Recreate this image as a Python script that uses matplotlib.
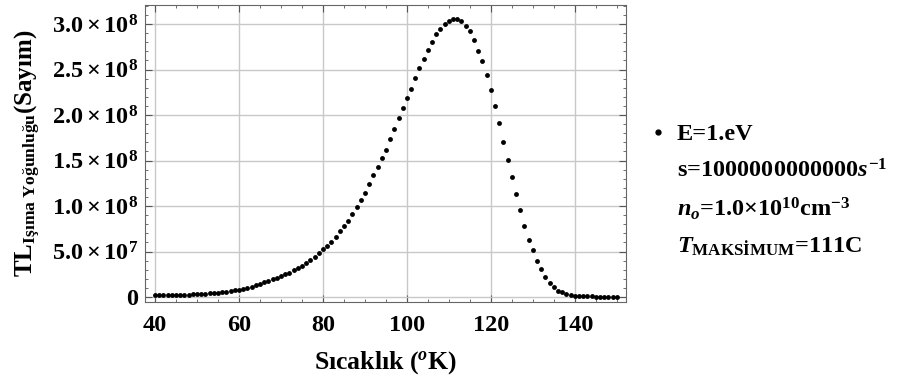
import matplotlib
matplotlib.use('Agg')
import matplotlib.pyplot as plt
from matplotlib.lines import Line2D
from matplotlib.ticker import MultipleLocator

plt.rcParams['font.family'] = 'Liberation Serif'
plt.rcParams['font.weight'] = 'bold'
plt.rcParams['axes.labelweight'] = 'bold'
plt.rcParams['mathtext.fontset'] = 'custom'
plt.rcParams['mathtext.rm'] = 'Liberation Serif:bold'
plt.rcParams['mathtext.it'] = 'Liberation Serif:italic:bold'
plt.rcParams['mathtext.bf'] = 'Liberation Serif:bold'

# sicaklik (K) ve TL isima yogunlugu (sayim)
sicaklik = list(range(40, 151))
yogunluk = [
    2.0e6, 2.0e6, 2.0e6, 2.1e6, 2.1e6, 2.2e6, 2.3e6, 2.4e6, 2.6e6, 3.0e6,      # 40-49
    3.4e6, 3.6e6, 3.8e6, 4.0e6, 4.3e6, 4.8e6, 5.4e6, 6.0e6, 6.6e6, 7.3e6,      # 50-59
    8.2e6, 9.2e6, 1.03e7, 1.15e7, 1.30e7, 1.46e7, 1.60e7, 1.76e7, 1.93e7, 2.11e7,  # 60-69
    2.30e7, 2.48e7, 2.68e7, 2.95e7, 3.20e7, 3.45e7, 3.72e7, 4.05e7, 4.45e7, 4.85e7,  # 70-79
    5.25e7, 5.60e7, 6.00e7, 6.65e7, 7.28e7, 7.83e7, 8.41e7, 9.18e7, 9.92e7, 1.065e8,  # 80-89
    1.146e8, 1.241e8, 1.336e8, 1.428e8, 1.523e8, 1.618e8, 1.736e8, 1.852e8, 1.967e8, 2.077e8,  # 90-99
    2.193e8, 2.286e8, 2.402e8, 2.520e8, 2.615e8, 2.710e8, 2.806e8, 2.886e8, 2.941e8, 2.996e8,  # 100-109
    3.033e8, 3.055e8, 3.055e8, 3.033e8, 2.982e8, 2.919e8, 2.824e8, 2.707e8, 2.597e8, 2.443e8,  # 110-119
    2.277e8, 2.102e8, 1.912e8, 1.699e8, 1.508e8, 1.314e8, 1.127e8, 9.51e7, 7.83e7, 6.29e7,  # 120-129
    5.16e7, 4.01e7, 3.07e7, 2.25e7, 1.53e7, 1.09e7, 7.1e6, 5.4e6, 3.2e6, 1.8e6,  # 130-139
    1.6e6, 1.6e6, 1.5e6, 1.2e6, 0.6e6, 0.5e6, 0.5e6, 0.5e6, 0.5e6, 0.5e6,  # 140-149
    0.5e6,  # 150
]

x_ticks = [40, 60, 80, 100, 120, 140]
y_ticks = [0, 5e7, 1e8, 1.5e8, 2e8, 2.5e8, 3e8]
y_labels = ['0', r'$5.0\times10^{7}$', r'$1.0\times10^{8}$', r'$1.5\times10^{8}$',
            r'$2.0\times10^{8}$', r'$2.5\times10^{8}$', r'$3.0\times10^{8}$']

legend_lines = [
    'E=1.eV',
    r's=1000000000000$s^{-1}$',
    r'$n_o$=1.0$\times$10$^{10}$cm$^{-3}$',
    r'$T_{\mathrm{MAKSİMUM}}$=111C',
]

fig = plt.figure(figsize=(8.99, 3.81), dpi=100)
ax = fig.add_axes([0.1613, 0.2073, 0.535, 0.7796])

ax.plot(sicaklik, yogunluk, 'o', color='black', ms=3.5, mew=0)

ax.set_xlim(37.6, 152.2)
ax.set_ylim(-5.5e6, 3.21e8)
ax.set_xticks(x_ticks)
ax.set_yticks(y_ticks)
ax.set_yticklabels(y_labels)
ax.xaxis.set_minor_locator(MultipleLocator(5))
ax.yaxis.set_minor_locator(MultipleLocator(1e7))
ax.grid(True, which='major', color='#c8c8c8', lw=1.0)
ax.set_axisbelow(True)

ax.tick_params(which='both', direction='in', top=True, right=True, color='#555555')
ax.tick_params(which='major', length=5, labelsize=17.5, pad=5)
ax.tick_params(axis='x', which='major', pad=9)
ax.tick_params(which='minor', length=2.5)
for s in ax.spines.values():
    s.set_color('#666666')

ax.set_xlabel(r'Sıcaklık ($^{o}$K)', fontsize=18.5, labelpad=10)
ax.set_ylabel(r'$\mathrm{TL}_{\mathrm{Işıma\ Yoğunluğu}}$(Sayım)', fontsize=18, labelpad=6)

handles = [Line2D([], [], ls='', marker='o', color='black', ms=3.5)]
handles += [Line2D([], [], ls='', marker='') for _ in legend_lines[1:]]
ax.legend(handles, legend_lines, loc='center left', bbox_to_anchor=(0.699, 0.5),
          bbox_transform=fig.transFigure, frameon=False, fontsize=17.5,
          handlelength=0.6, handletextpad=0.5, labelspacing=0.55)

fig.savefig('out.png', dpi=100)
